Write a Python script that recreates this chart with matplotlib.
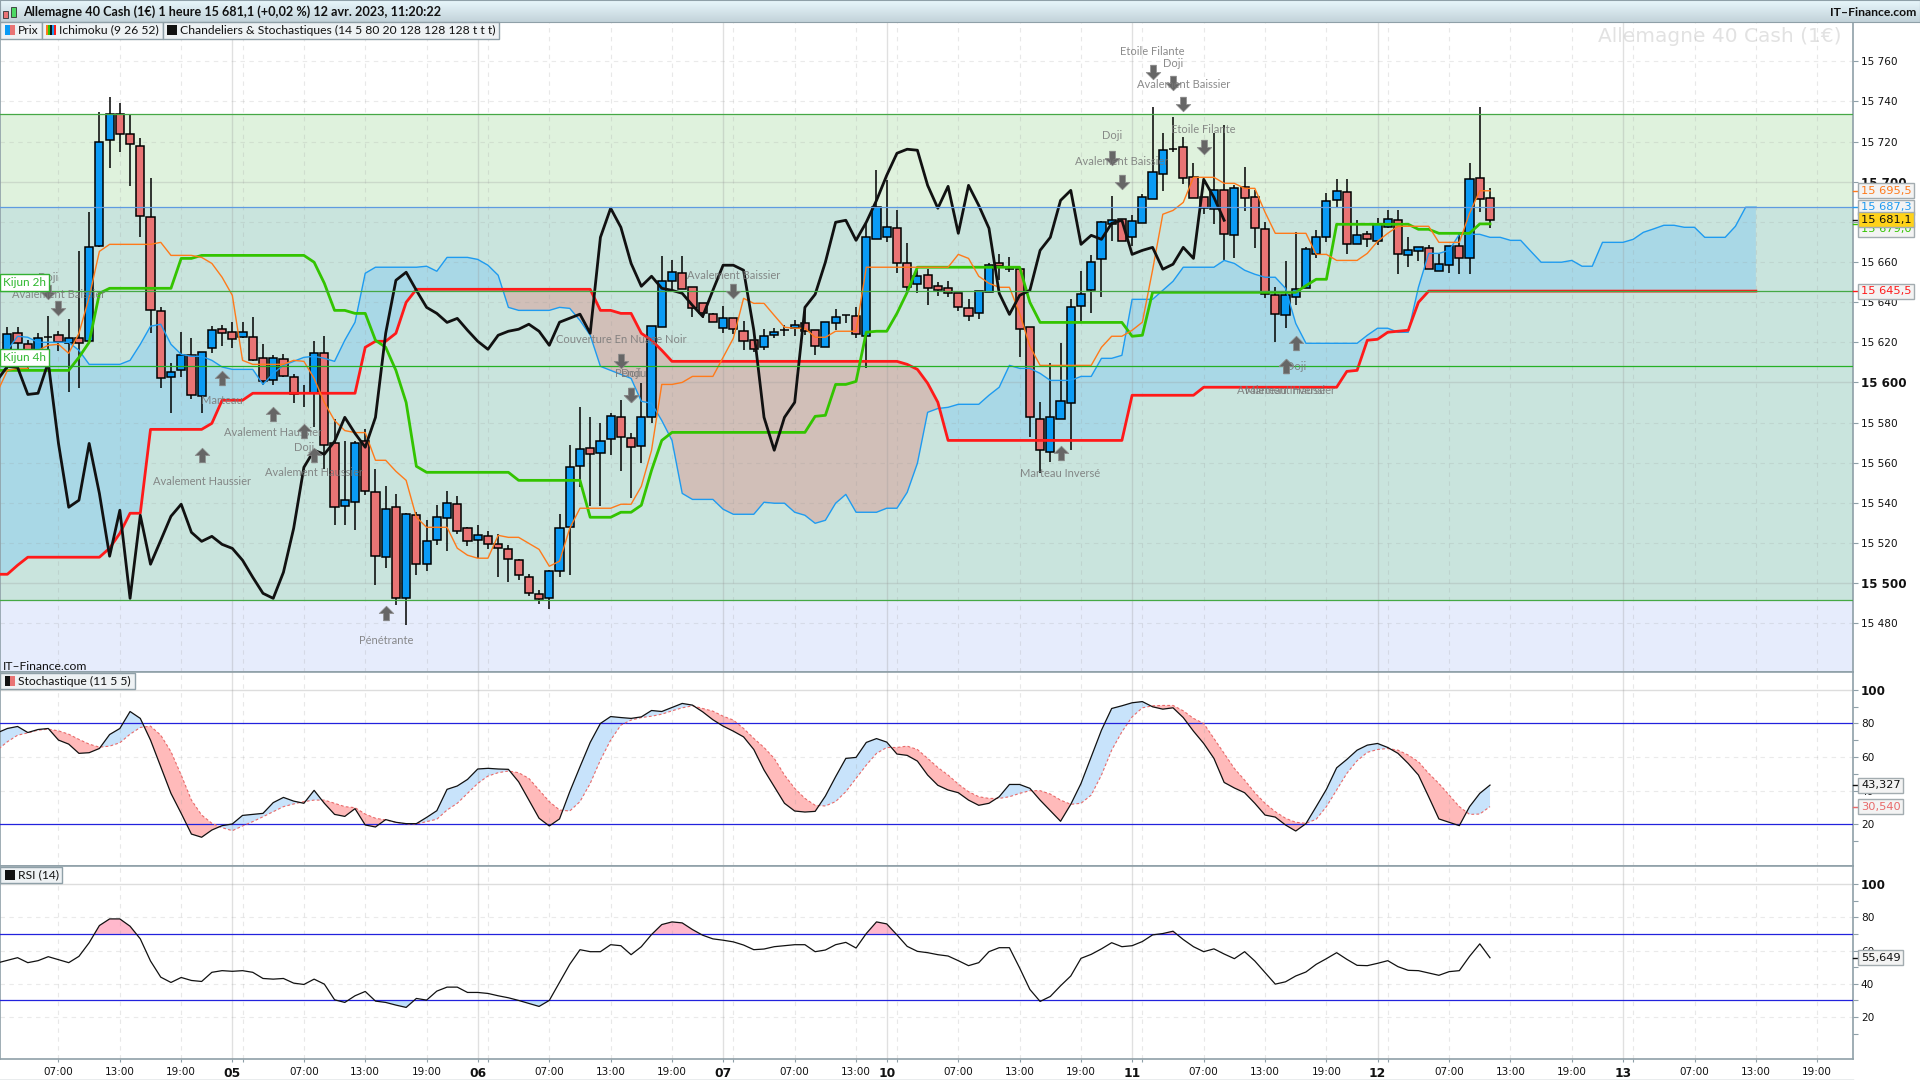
import numpy as np
import matplotlib
matplotlib.use('Agg')
import matplotlib.pyplot as plt
from matplotlib.patches import Rectangle

# candles, one hour each
opens = [15615,15624.5,15619,15613.5,15622.5,15623.5,15619.5,15622,15620.5,15667.8,15720.6,15734,15724,15718,15682.3,15635.4,15602.5,15606,15613.5,15593,
15617,15626.5,15625,15622.5,15622.5,15612,15601,15611.5,15602.5,15594.6,15594.6,15614.5,15569.6,15538.3,15540.3,15570.6,15545.2,15512.9,15537.8,15492.4,
15533.8,15509.4,15521.3,15532.3,15539.3,15527.3,15521.3,15523.3,15519.3,15516.8,15511.4,15502.9,15494.4,15492.4,15505.9,15527.8,15558.2,15567.2,15564.7,15571.6,
15582.6,15572.1,15568.2,15582.6,15627.5,15650.4,15654.4,15647.4,15639.4,15633.9,15626.9,15631.9,15625.5,15621,15617.5,15623.5,15626,15627,15629.5,15626,
15617.5,15629.5,15633.4,15633,15623,15671.3,15672.3,15676.8,15659.3,15648.9,15653.4,15647.9,15646.9,15644.4,15636.9,15634.4,15644.9,15659.4,15656.4,15656.4,
15627.5,15581.6,15565.2,15581.6,15589.6,15637.9,15645.9,15661.3,15678.8,15681.3,15672.3,15679.3,15691.2,15703.7,15716.2,15717.1,15702.2,15692.2,15686.3,15695.7,
15673.3,15697.2,15692.2,15676.3,15643.4,15633.4,15642.4,15646.9,15663.8,15672.3,15690.7,15694.7,15668.8,15673.8,15670.3,15677.3,15680.8,15663.3,15665.3,15666.8,
15655.4,15658.4,15667.8,15661.8,15701.7,15691.7]
highs = [15627.5,15627.5,15621,15624.5,15633,15625.5,15631.5,15665.5,15684.7,15734.6,15742,15739,15734,15721.6,15702,15637.4,15609.5,15625,15622,15615,
15628,15628.5,15630,15630,15632.4,15619,15613.5,15614,15604,15598.5,15620.5,15623,15582,15571,15571,15576.6,15556.7,15548.2,15544.2,15534.8,
15535.3,15531.3,15538.8,15545.7,15543.2,15527.8,15528.8,15525.8,15524.3,15518.8,15511.9,15504.4,15496.4,15506.4,15534.3,15569,15587.6,15582.6,15580,15584.6,
15591,15574.6,15599.6,15628,15662.8,15660.8,15662.8,15647.4,15639.4,15634.4,15637.9,15631.9,15630.4,15621,15626.5,15627,15628.5,15631,15637,15626,
15630,15636.4,15633.4,15637.4,15679.8,15705.7,15700.7,15685.7,15669.3,15655.9,15656.4,15649.9,15650.4,15644.4,15641.4,15645.4,15659.4,15663.8,15662.3,15656.4,
15627.5,15590.1,15609.5,15619.5,15641.4,15655.4,15663.3,15680.3,15692.7,15681.3,15683.3,15693.7,15737.1,15724.1,15732.1,15722.1,15709.2,15692.2,15724.1,15728.1,
15698.2,15707.2,15695.7,15679.8,15647.4,15660.4,15674.8,15667.3,15675.8,15694.2,15701.2,15701.2,15680.8,15675.3,15681.8,15685.8,15685.8,15672.3,15667.3,15668.3,
15663.8,15667.8,15673.8,15709.2,15737.1,15696.7]
lows = [15605,15614.5,15606,15607.5,15616,15615.5,15595,15597,15620.5,15667.3,15707,15714.7,15697.7,15672.3,15624.5,15597,15584.6,15602.5,15591.6,15585,
15614.5,15618,15617,15622,15610.5,15598.5,15598.5,15602.5,15589.6,15588,15577.6,15556.7,15528.8,15528.8,15526.3,15543.7,15498.9,15507.4,15489,15479,
15503.9,15505.9,15518.8,15515.8,15524.3,15518.3,15512.4,15516.8,15502.9,15500.4,15501.4,15493.4,15489.4,15487,15502.9,15503.9,15547.7,15538.3,15538.3,15563.7,
15555.7,15542.2,15559.7,15579.6,15627.5,15645.9,15646.4,15632.4,15631.9,15629.9,15624.5,15624,15616,15615,15616,15622,15623,15623,15623.5,15613.5,
15617.5,15626,15629.5,15622,15607,15671.3,15669.8,15654.4,15643.9,15644.4,15638.4,15642.9,15642.4,15635.4,15630.4,15631.4,15644.9,15650.9,15654.9,15612.5,
15572.6,15554.7,15560.2,15581.6,15566.2,15630.4,15634.4,15642.4,15670.3,15670.3,15667.8,15679.3,15691.2,15695.2,15714.7,15698.7,15691.7,15683.8,15678.8,15660.8,
15661.8,15685.3,15666.8,15641.9,15620,15627,15638.4,15646.9,15661.8,15669.8,15687.2,15663.8,15668.8,15667.3,15668.3,15676.8,15653.9,15657.4,15660.3,15656.4,
15655.4,15654.4,15653.9,15653.9,15684.8,15676.8]
closes = [15624,15619.5,15614.5,15622,15622.5,15620,15622,15619.5,15667.3,15720,15734,15724,15718.6,15682.8,15636,15602,15605,15613.5,15593.6,15615,
15626,15624.5,15621.5,15625,15611,15600.5,15612,15603,15594,15594.6,15614.5,15569,15537.8,15541.3,15570,15545.7,15513.4,15536.8,15492.4,15534.3,
15509.4,15520.8,15532.8,15539.8,15525.8,15520.8,15523.8,15519.3,15517.3,15511.9,15503.9,15494.9,15491.9,15505.9,15527.3,15557.7,15566.7,15564.2,15570.6,15583.1,
15572.6,15567.7,15582.6,15628,15650.4,15654.9,15646.4,15636.9,15634.4,15629.9,15631.9,15626.5,15620.5,15616.5,15623,15625,15626,15628.5,15625.5,15618,
15630,15632.4,15633.4,15624,15672.3,15687.2,15677.3,15659.3,15647.4,15652.9,15646.9,15645.9,15644.4,15637.4,15632.9,15645.4,15658.4,15657.9,15656.4,15626.5,
15582.6,15566.2,15582.6,15590.6,15637.4,15643.9,15659.8,15679.8,15680.8,15670.3,15680.3,15692.2,15704.7,15715.7,15716.2,15701.7,15691.7,15686.8,15695.7,15673.8,
15696.7,15691.7,15676.8,15643.9,15633.9,15643.4,15646.4,15666.3,15672.3,15690.2,15695.2,15668.8,15673.3,15671.3,15678.8,15681.3,15663.8,15665.8,15667.3,15656.4,
15658.9,15667.8,15661.8,15701.2,15691.2,15681.1]

# ichimoku, first value is one bar left of the first candle
tenkan = ([15595,15606,15607,15607,15616,15618.5,15619,15614.5,15624.5,15642.4,15665.3] + [15668.8]*5 + [15669.8] + [15663.3]*3
    + [15662.3,15659.3,15652.4,15643.4,15611] + [15609]*4 + [15611,15610.5,15602,15590,15581,15576] + [15575]*2 + [15561.2]*2
    + [15555.7,15551.2,15532.8] + [15527.8]*3 + [15517.4,15513.9] + [15512.4]*2 + [15523.8] + [15522.8]*2
    + [15519.8,15516.8,15508.4,15510.9,15527.3] + [15537.3]*4 + [15539.3]*2 + [15548.2,15566.2] + [15599]*2 + [15600] + [15603]*3
    + [15612.5,15622,15641.9] + [15639.4]*2 + [15633.4,15627.5] + [15627]*2 + [15622.5]*2 + [15625.5]*3 + [15657.4]*9
    + [15663.8,15661.8,15652.9,15649.4] + [15647.4]*2 + [15634.4,15618] + [15608.5]*6 + [15617.5] + [15623]*2
    + [15626,15630,15656,15683.8,15685.7,15689.7] + [15702.2]*3 + [15699.2]*2 + [15696.7]*2 + [15684.8] + [15674.3]*4 + [15663.8]*2
    + [15660.8]*3 + [15664.3,15670.3,15674.3] + [15677.8]*4 + [15669.8]*3 + [15684.3] + [15695.5]*2)
kijun = ([15606]*8 + [15612.5,15620,15644.4] + [15646.9]*7 + [15661.8]*2 + [15663.3]*11 + [15659.9,15649.4] + [15635.9]*2 + [15634.4]*2
    + [15621,15617.5,15606,15590,15558.2] + [15555.2]*9 + [15551.2]*7 + [15532.8]*3 + [15535.3]*2 + [15538.8,15556.2,15571.1]
    + [15575.1]*14 + [15583.1,15583.6] + [15599]*2 + [15600.5,15625] + [15625.5]*2 + [15634.4,15644.9] + [15657.4]*11 + [15639.9]
    + [15629.9]*9 + [15623,15623.5] + [15644.9]*15 + [15648.2] + [15651.4]*2 + [15678.8]*8 + [15676.3]*2 + [15674.3]*4 + [15679]*2)
chikou = [15601,15608,15607.5,15594,15594.6,15610,15569.6,15537.8,15541.3,15569.6,15544.7,15513.4,15536.3,15492.4,15533.8,15509.4,15521.3,15533.3,15539.3,15525.3,
15520.8,15523.3,15519.3,15517.3,15511.4,15502.9,15494.9,15492.4,15505.4,15527.3,15557.7,15566.2,15564.2,15570.6,15582.6,15574.6,15567.7,15582.6,15624.5,15650.9,
15654.9,15645.9,15637.4,15634.4,15629.9,15631.9,15626,15620.5,15616.5,15623.5,15625.5,15626.5,15629,15625.5,15618.5,15630,15632,15634,15624.5,15672.3,
15686.8,15677.3,15659.3,15647.9,15652.9,15646.9,15645.9,15644.4,15638.4,15632.9,15645.9,15658.4,15658.4,15655.9,15626,15582.6,15566.2,15582.6,15590.1,15637.4,
15643.9,15659.9,15679.8,15680.8,15670.8,15679.8,15690.7,15703.2,15714.2,15716.2,15715.7,15698.2,15686.8,15697.7,15674.3,15698.2,15688.2,15676.8,15644.4,15633.9,
15643.4,15645.9,15665.8,15672.3,15690.7,15695.7,15668.8,15673.3,15671.3,15679.3,15680.8,15663.8,15665.8,15667.3,15656.4,15658.9,15667.3,15661.8,15701.2,15692.2,15680.8]
senkou_a = ([15610,15616,15623,15622.5] + [15620]*4 + [15616] + [15609]*4 + [15611,15619,15628,15629,15619,15614] + [15613]*2
    + [15611,15607.7] + [15606.5]*3 + [15599,15604.5,15608.5,15610.5,15612.5,15613,15612,15610.5,15621,15630,15654.4] + [15657.4]*5
    + [15657.9,15655.4] + [15662.3]*3 + [15661.3,15658.4,15653.4,15637.4] + [15635.9]*4 + [15637.4,15636.9,15630.9,15623.5,15608,15606,15604,15602,15590.6,15589.6,15581,15571.1,15544.7]
    + [15541.7]*3 + [15536.8] + [15534.3]*3 + [15540.3] + [15539.8]*2 + [15535.3,15533.8,15529.8,15531.3,15539.8,15544.2] + [15535.3]*3 + [15537.3]*2
    + [15545.2,15559.7,15585.1,15587,15587.6] + [15589.1]*3 + [15593.6,15597.6,15608.5] + [15607]*2 + [15604.5] + [15601]*3 + [15603]*2 + [15612]*2
    + [15613.5] + [15641.4]*3 + [15645.9,15650.4] + [15657.4]*4 + [15660.8,15659.3,15655.9,15653.9] + [15652.4]*2 + [15646.9,15629.4] + [15619.5]*6
    + [15623.5] + [15627]*2 + [15625]*2 + [15647.4] + [15664.3]*2 + [15665.8] + [15673.8]*3 + [15672.3]*2 + [15670.8]*2 + [15665.3] + [15659.9]*3
    + [15660.8] + [15657.9]*2 + [15669.8]*3 + [15671.3,15674.8,15676.5] + [15678.3]*2 + [15677.3]*2 + [15672.3]*3 + [15677.8] + [15687.3]*2)
senkou_b = ([15504.4]*2 + [15508.9] + [15512.9]*8 + [15517.4,15524.8] + [15534.8]*2 + [15576.6]*6 + [15579.6] + [15591.1]*3 + [15594.6]*11
    + [15617.5] + [15620.5]*2 + [15624.5,15639.9] + [15646.4]*18 + [15635.9]*2 + [15634.4]*2 + [15624.5,15621,15616] + [15610.5]*23
    + [15609,15606.5,15599.6,15590.1] + [15571.1]*18 + [15593.6]*7 + [15597.6]*14 + [15605.5,15606,15621,15621.5,15625,15625.5,15626,15639.9] + [15645.5]*33)

# oscillators
stoch_k = [74.4,77,78.2,74.6,76.4,77,70.1,67.7,62.2,62.6,65.1,73.4,77,87.1,83,70.1,54.2,38.4,26.5,14.2,12.3,16.6,19.2,20.2,25.3,25.9,26.5,32.9,36,33.8,
32.5,40.2,32.5,25.9,24.7,29.3,19.6,18.4,22.8,21.2,20.4,20.4,24.1,28.1,40.8,42.8,46.7,52.9,53.3,52.9,52.7,45.3,34.4,23.6,19,23.2,39.4,54.2,68.7,80,
84.1,83.5,83,83.9,87.7,87.1,89.5,91.9,90.9,86.9,82.2,78.4,75.4,72,64.5,52.3,42.4,32.5,27.9,27.3,27.7,36.8,48.3,59.2,59.8,68.7,71,68.9,61.8,61,
57.6,49.3,43.2,40.4,38.8,34.4,31.3,32.5,36.4,43.7,43.7,41.4,34.4,28.1,21.8,31.9,44.3,60.2,76,88.9,90.5,92.3,93,89.9,88.5,89.3,83.5,75.4,68.1,59.2,
44.9,41.6,38.8,32.5,25.5,24.3,19.6,16,20.4,30.5,40.8,53.6,58.6,64.1,67.1,68.1,65.7,62.2,56.2,49.3,36.4,23.2,21.2,19.2,30.5,38.4,43.327]
stoch_d = [64.1,69.1,73,74.4,76,76.6,75.6,73.6,70.5,67.7,65.9,66.5,68.5,73.6,77.6,78.4,73,63.2,49.3,34.4,25.5,20.6,18,16.2,19,21.6,24.5,27.5,30.5,32.1,
33.5,34.4,34.4,32.5,30.5,29.9,26.1,23.6,22.6,21.2,20.2,20.2,21.6,23,28.5,32.5,38.4,44.3,48.7,50.7,51.7,50.7,47.3,40.4,33.5,28.5,27.9,33.5,44.3,58.2,
70.1,79,82,83.5,84.3,85.5,87.5,89.3,90.5,88.9,87.3,84.3,82,77,71.1,65.7,59.2,49.3,41.4,35.4,31.3,30.9,33.5,39.4,47.3,55.2,62.2,65.7,65.7,66.5,
64.5,59.2,53.8,49.3,43.9,39.4,36.4,35.4,35.4,36.4,38.4,40,40,38,34.4,31.9,32.5,37.4,49.3,64.1,75,83.9,89.3,90.5,90.7,90.7,87.5,83,80,71.1,
62.2,53.2,46.3,38.8,32.5,27.5,23.6,21.2,20.6,23,30.5,40.4,50.3,57.8,62.8,64.5,65.1,64.1,61.2,57.2,50.3,44.3,37.4,30.5,25.9,26.1,30.54]
rsi = [52.5,54.1,55.7,52.7,53.9,56.3,54.5,52.7,56.5,64.7,75,79,79,74.6,67,53.7,44,40.8,43.8,42,41.4,46.9,47.9,47.5,47.9,46.9,43.2,42.8,43.2,40.4,
39.6,42.8,39.8,30.4,28.8,32.8,35.4,29.6,28.8,27.2,25.8,31.2,30.2,35.6,38,38,34.8,34.8,34.2,32.8,31.6,30,28.2,26.4,30,40.8,51.7,60.5,59.3,59.3,
63.5,62.9,57.5,62.3,69.6,75.6,77.2,76.6,72.6,69.2,67,66.2,65.2,63.3,60.5,60.9,62.3,62.9,63.5,63.5,59.3,60.3,63.5,64.9,61.5,70.2,77.2,76,69.4,62.5,
59.5,58.7,57.5,56.7,53.9,50.9,52.7,59.3,61.7,61.7,49.5,36.6,29.4,32.4,38.8,44.7,55.3,57.7,61,64.7,62.3,62.9,65.4,69.4,70.2,71.6,66.6,62.3,59.3,61,
57.9,55.1,59.3,53.7,46.7,39.8,41.2,44.7,47.1,51.7,55.1,58.7,54.7,51.1,50.9,52.3,53.9,50.3,48.1,47.9,46.5,45.1,47.3,47.9,56.5,64,55.649]

# horizontal levels of the main panel
level_top = 15733.9
level_mid = 15687.3
level_kijun_2h = 15645.5
level_kijun_4h = 15608
level_low = 15491.8

# candle patterns
pattern_names = ['Doji','Avalement Baissier','Marteau','Avalement Haussier','Avalement Haussier','Doji','Avalement Haussier','Pénétrante',
    'Couverture En Nuage Noir','Pendu','Doji','Avalement Baissier','Marteau Inversé','Doji','Avalement Baissier','Etoile Filante','Doji',
    'Avalement Baissier','Etoile Filante','Doji','Avalement Haussier','Marteau Inversé']
pattern_bars = [4,5,21,19,26,29,30,37,60,61,61,71,103,108,109,112,114,115,117,126,125,125]
pattern_text = [15652.4,15643.9,15591.1,15550.7,15575.1,15567.7,15555.2,15471.5,15621.5,15604.5,15604.5,15653.4,15554.7,15723.1,15710.2,15765,15759,15748.5,15726.1,15607.7,15596,15596]
pattern_arrow = [15644.9,15637,15602,15563.7,15584.1,15575.6,15563.7,15485,15610.5,15593.6,15593.6,15645.5,15564.7,15711.8,15699.9,15754.7,15749.2,15738.6,15717.3,15619.6,15608,15608]
pattern_up = [0,0,1,1,1,1,1,1,0,0,0,0,1,0,0,0,0,0,0,1,1,1]
clipped_arrow_bar = 39
clipped_arrow_y = 15451.6

# time axis
hour_bars = [5,11,17,29,35,41,53,59,65,77,83,93,99,105,117,123,129,141,147,153,165,171,177]
hour_labels = ['07:00','13:00','19:00','07:00','13:00','19:00','07:00','13:00','19:00','07:00','13:00','07:00','13:00','19:00','07:00','13:00','19:00','07:00','13:00','19:00','07:00','13:00','19:00']
day_bars = [22,46,70,86,110,134,158]
day_labels = ['05','06','07','10','11','12','13']
one_am_bars = [23,47,71,87,111,135,159]

price_ticks = list(range(15480,15761,20))
osc_ticks = [20,40,60,80,100]
osc_minor = [10,30,50,70,90]

BLUE = '#0A9BF5'
RED = '#E97474'
NARROW = 'Lato'

plt.rcParams['font.family'] = ['DejaVu Sans']
fig = plt.figure(figsize=(19.2,10.8), dpi=100, facecolor='white')

def add_panel(top, bottom):
    return fig.add_axes([0, 1-bottom/1080, 1853/1920, (bottom-top)/1080])

ax = add_panel(22,672)
ax_st = add_panel(672,866)
ax_rsi = add_panel(866,1059)

xlim = (-0.72,180.5)
for a in (ax,ax_st,ax_rsi):
    a.set_xlim(*xlim)
    for s in a.spines.values():
        s.set_color('#8FA0A8')
        s.set_linewidth(1.2)
    a.yaxis.tick_right()
    a.tick_params(axis='y', length=3.6, width=0.8, color='#8FA0A8', labelsize=7.6, pad=2, labelcolor='#111111')
    for b in hour_bars + one_am_bars:
        a.axvline(b, color='#999999', alpha=0.22, lw=0.8, ls=(0,(4,4)), zorder=3)
    for b in day_bars:
        a.axvline(b, color='#999999', alpha=0.3, lw=1, zorder=3)

# main panel
ax.set_ylim(15455.7,15779.6)
ax.axhspan(level_low, level_mid, color='#C9E4DD', lw=0, zorder=0)
ax.axhspan(level_mid, level_top, color='#DFF2DD', lw=0, zorder=0)
ax.axhspan(15400, level_low, color='#E6ECFC', lw=0, zorder=0)
for p in price_ticks:
    if p % 100 == 0:
        ax.axhline(p, color='#999999', alpha=0.28, lw=1, zorder=3)
    else:
        ax.axhline(p, color='#999999', alpha=0.2, lw=0.8, ls=(0,(4,4)), zorder=3)

cloud_bars = np.arange(-1,172)
a_vals = np.array(senkou_a)
b_vals = np.array(senkou_b)
ax.fill_between(cloud_bars, a_vals, b_vals, where=a_vals>=b_vals, interpolate=True, color='#A9D8E6', lw=0, zorder=1)
ax.fill_between(cloud_bars, a_vals, b_vals, where=a_vals<b_vals, interpolate=True, color='#D1BFB8', lw=0, zorder=1)

bars = np.arange(len(closes))
o = np.array(opens); c = np.array(closes)
up = c >= o
ax.vlines(bars, lows, highs, color='black', lw=1.1, zorder=6)
ax.bar(bars, np.abs(c-o), bottom=np.minimum(o,c), width=0.8,
       color=[BLUE if u else RED for u in up], edgecolor='black', linewidth=1.1, zorder=7)

line_bars = np.arange(-1,146)
ax.plot(cloud_bars, senkou_a, color='#1E9BF0', lw=1, zorder=8)
ax.plot(cloud_bars, senkou_b, color='#FF1A1A', lw=2, zorder=8, solid_joinstyle='round')
ax.plot(line_bars, kijun, color='#33C400', lw=2, zorder=8)
ax.plot(line_bars, tenkan, color='#FF7A1A', lw=1, zorder=9)
ax.plot(np.arange(-1,120), chikou, color='#111111', lw=2, zorder=9)

# the level lines run over candles and cloud
ax.axhline(level_top, color='#45A845', lw=0.9, zorder=9.5)
ax.axhline(level_mid, color='#5F9BE0', lw=0.9, zorder=9.5)
ax.axhline(level_kijun_2h, color='#45A845', lw=0.9, zorder=9.5)
ax.axhline(level_kijun_4h, color='#25B025', lw=0.9, zorder=9.5)
ax.axhline(level_low, color='#45A845', lw=0.9, zorder=9.5)

# pattern arrows and names
arrow_up = [(-0.2,-0.5),(0.2,-0.5),(0.2,0),(0.5,0),(0,0.5),(-0.5,0),(-0.2,0),(-0.2,-0.5)]
arrow_down = [(x,-y) for x,y in arrow_up]
for name,b,ty,ay,u in zip(pattern_names,pattern_bars,pattern_text,pattern_arrow,pattern_up):
    ax.plot([b],[ay], marker=arrow_up if u else arrow_down, ms=10.5, mfc='#666666', mec='#8A8A8A', mew=0.5, ls='none', zorder=10)
    ax.text(b, ty, name, ha='center', va='center', color='#777777', alpha=0.85, fontsize=8, family=NARROW, zorder=10)
ax.plot([clipped_arrow_bar],[clipped_arrow_y], marker=arrow_up, ms=10.5, mfc='#666666', mec='#8A8A8A', mew=0.5, ls='none', zorder=10)

ax.text(1842/1853, 0.993, 'Allemagne 40 Cash (1€)', transform=ax.transAxes, ha='right', va='top', color='#E2E2E2', fontsize=14.5, zorder=2)
ax.text(3/1853, 0.009, 'IT–Finance.com', transform=ax.transAxes, ha='left', va='center', color='#111111', fontsize=8.7, family=NARROW, zorder=11)

# main y axis
ax.set_yticks(price_ticks)
ax.set_yticklabels([f'{p//1000} {p%1000:03d}' for p in price_ticks])
for p,lab in zip(price_ticks, ax.get_yticklabels()):
    if p % 100 == 0:
        lab.set_fontweight('bold')
        lab.set_fontsize(8.6)
ax.set_xticks([])

# kijun tags sitting on their lines
for y_top,y_bot,txt in [(274,291,'Kijun 2h'),(349,366,'Kijun 4h')]:
    fig.add_artist(Rectangle((0,1-y_bot/1080),49/1920,(y_bot-y_top)/1080, transform=fig.transFigure, fc='white', ec='#33B033', lw=1, zorder=4))
    fig.text(3/1920, 1-(y_top+y_bot)/2/1080, txt, color='#2EB82E', fontsize=8.5, family=NARROW, va='center', zorder=5)

# stochastic
ax_st.set_ylim(-4.8,110.6)
ax_st.axhline(100, color='#DDDDDD', lw=1, zorder=1)
for v in (40,60):
    ax_st.axhline(v, color='#999999', alpha=0.2, lw=0.8, ls=(0,(4,4)), zorder=1)
k_vals = np.array(stoch_k); d_vals = np.array(stoch_d)
ax_st.fill_between(line_bars, k_vals, d_vals, where=k_vals>=d_vals, interpolate=True, color='#C8E3FB', lw=0, zorder=2)
ax_st.fill_between(line_bars, k_vals, d_vals, where=k_vals<d_vals, interpolate=True, color='#FFBABA', lw=0, zorder=2)
ax_st.axhline(80, color='#2222DD', lw=0.9, zorder=4)
ax_st.axhline(20, color='#2222DD', lw=0.9, zorder=4)
ax_st.plot(line_bars, stoch_d, color='#E86A6A', lw=0.8, ls=(0,(2.5,2)), zorder=5)
ax_st.plot(line_bars, stoch_k, color='#111111', lw=0.9, zorder=6)

# rsi
ax_rsi.set_ylim(-5.2,110.8)
ax_rsi.axhline(100, color='#DDDDDD', lw=1, zorder=1)
for v in (20,40,60,80):
    ax_rsi.axhline(v, color='#999999', alpha=0.2, lw=0.8, ls=(0,(4,4)), zorder=1)
r_vals = np.array(rsi)
ax_rsi.fill_between(line_bars, r_vals, 70, where=r_vals>=70, interpolate=True, color='#FFB8CC', lw=0, zorder=2)
ax_rsi.fill_between(line_bars, r_vals, 30, where=r_vals<=30, interpolate=True, color='#BFE0FA', lw=0, zorder=2)
ax_rsi.axhline(70, color='#2222DD', lw=0.9, zorder=4)
ax_rsi.axhline(30, color='#2222DD', lw=0.9, zorder=4)
ax_rsi.plot(line_bars, rsi, color='#111111', lw=0.9, zorder=6)

for a in (ax_st,ax_rsi):
    a.set_yticks(osc_ticks)
    a.set_yticks(osc_minor, minor=True)
    a.tick_params(axis='y', which='minor', length=3.6, width=0.8, color='#8FA0A8')
    a.set_yticklabels([str(v) for v in osc_ticks])
    labs = a.get_yticklabels()
    labs[-1].set_fontweight('bold')
    labs[-1].set_fontsize(8.6)
ax_st.set_xticks([])

# time labels
ax_rsi.set_xticks(hour_bars + day_bars)
ax_rsi.set_xticks(one_am_bars, minor=True)
ax_rsi.set_xticklabels(hour_labels + day_labels)
ax_rsi.tick_params(axis='x', which='both', length=2.5, width=0.8, color='#8FA0A8', labelsize=7.5, pad=3, labelcolor='#111111')
for lab in ax_rsi.get_xticklabels()[len(hour_bars):]:
    lab.set_fontweight('bold')
    lab.set_fontsize(8.8)
fig.add_artist(plt.Line2D([0,1853/1920],[1-1079.5/1080]*2, transform=fig.transFigure, color='#8FA0A8', lw=1))

# last value boxes on the right of the panels, a box may sit a little off its value
def value_box(a, val, txt, color, face='#F3F3F3', z=50, size=8.2, x=1861, box_val=None):
    a.plot([1,1.0027],[val,val], transform=a.get_yaxis_transform(), color=color, lw=1, clip_on=False, zorder=z)
    a.text(x/1853, val if box_val is None else box_val, txt, transform=a.get_yaxis_transform(), ha='left', va='center', color=color, fontsize=size,
           bbox=dict(boxstyle='square,pad=0.22', fc=face, ec='#A3ACB0', lw=1), zorder=z, clip_on=False)

value_box(ax, tenkan[-1], '15 695,5', '#FF7A1A', z=51)
value_box(ax, kijun[-1], '15 679,0', '#33C400', z=50, box_val=15676.3)
value_box(ax, level_mid, '15 687,3', '#1E9BF0', z=52)
value_box(ax, closes[-1], '15 681,1', '#111111', face='#FFD21A', z=53)
value_box(ax, senkou_b[-1], '15 645,5', '#FF1A1A', z=51)
value_box(ax_st, stoch_k[-1], '43,327', '#111111')
value_box(ax_st, stoch_d[-1], '30,540', '#E86A6A')
value_box(ax_rsi, rsi[-1], '55,649', '#111111')

# header bar with a vertical gradient
ax_head = fig.add_axes([0,1-22/1080,1,22/1080])
ax_head.imshow(np.linspace(0,1,32).reshape(-1,1), aspect='auto', cmap=matplotlib.colors.LinearSegmentedColormap.from_list('h',['#E8F7FC','#C3D3DA']))
ax_head.set_xticks([]); ax_head.set_yticks([])
for s in ax_head.spines.values():
    s.set_color('#8FA0A8')
fig.text(23/1920, 1-12/1080, 'Allemagne 40 Cash (1€) 1 heure 15 681,1 (+0,02 %) 12 avr. 2023, 11:20:22', fontsize=9.1, fontweight='bold',
         family=NARROW, color='#111111', va='center', zorder=5)
fig.text(1916/1920, 1-12/1080, 'IT–Finance.com', fontsize=8.8, fontweight='bold', family=NARROW, color='#111111', va='center', ha='right', zorder=5)

def fig_rect(x0,y0,x1,y1,fc,ec='none',lw=0,z=5):
    fig.add_artist(Rectangle((x0/1920,1-y1/1080),(x1-x0)/1920,(y1-y0)/1080, transform=fig.transFigure, fc=fc, ec=ec, lw=lw, zorder=z))

# header icon, two small candles
fig_rect(3,11,8,18,'#E97474','#333333',0.6)
fig_rect(11,7,16,17,'#4CD964','#333333',0.6)

# legend tabs
def tab(x0,y0,x1,y1,txt,tx):
    fig_rect(x0,y0,x1,y1,'#EEF2F4','#8FA0A8',1,z=4)
    fig.text(tx/1920, 1-(y0+y1)/2/1080, txt, fontsize=8.7, family=NARROW, color='#111111', va='center', zorder=6)

tab(0,22,41.5,38.5,'Prix',18)
fig_rect(5,25,10,35,BLUE); fig_rect(10,25,15,35,RED)
tab(41.5,22,162.5,38.5,'Ichimoku (9 26 52)',59)
for i,col in enumerate(['#FF7A1A','#33C400','#111111','#1E9BF0','#FF1A1A']):
    fig_rect(46+i*2,25,48+i*2,35,col)
tab(162.5,22,498.5,38.5,'Chandeliers & Stochastiques (14 5 80 20 128 128 128 t t t)',180)
fig_rect(167,25,177,35,'#111111')
tab(0,673,135,689,'Stochastique (11 5 5)',18)
fig_rect(5,676,10,686,'#111111'); fig_rect(10,676,15,686,RED)
tab(0,867,62,883,'RSI (14)',18)
fig_rect(5,870,15,880,'#111111')

fig.savefig('out.png', dpi=100)
